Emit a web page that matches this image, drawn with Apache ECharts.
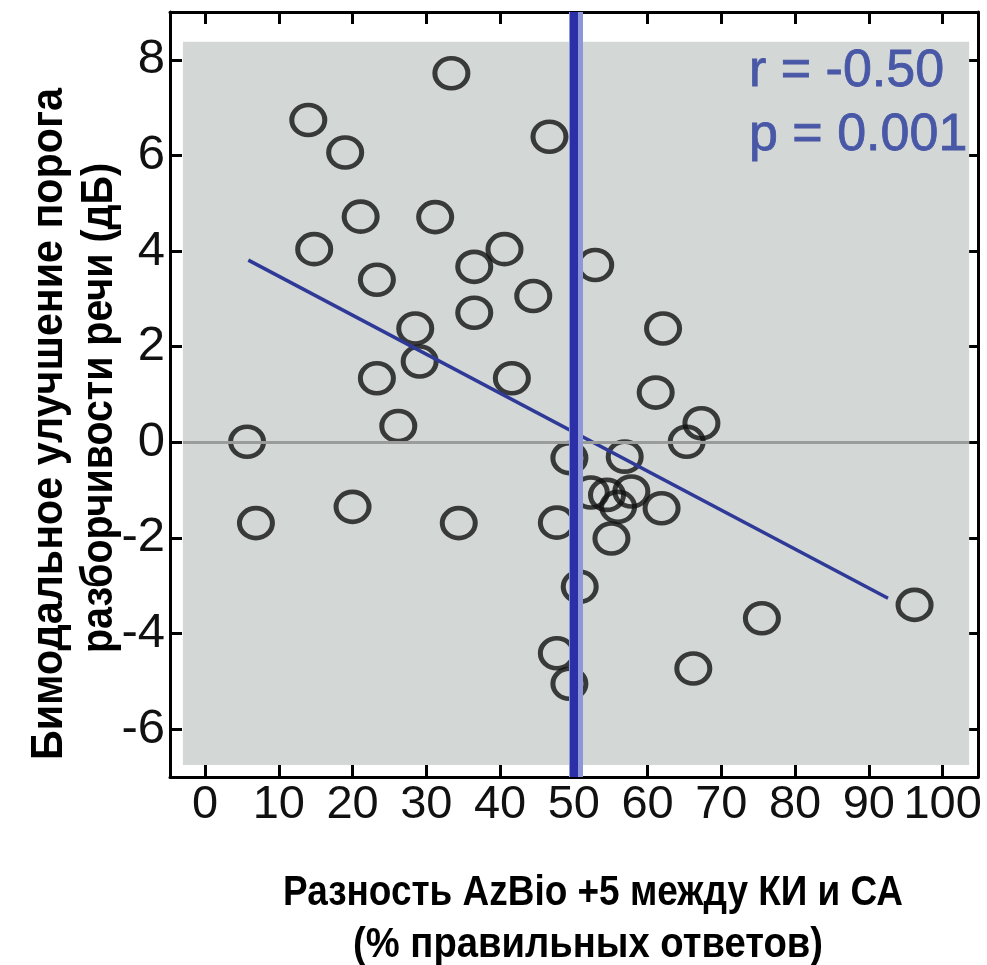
<!DOCTYPE html>
<html>
<head>
<meta charset="utf-8">
<script src="https://cdn.jsdelivr.net/npm/echarts@6/dist/echarts.min.js"></script>
<style>html,body{margin:0;padding:0;background:#fff}#c{width:987px;height:965px}</style>
</head>
<body>
<div id="c"></div>
<script>
// ---- data ----
const xVals = [33.4, 14.0, 19.0, 46.7, 21.1, 31.2, 14.8, 40.6, 36.5, 23.3, 52.9, 44.5, 36.5, 28.5, 62.1, 29.1, 23.3, 41.6, 61.1, 26.2, 67.3, 65.3, 5.7, 49.4, 56.9, 52.3, 54.5, 57.8, 56.0, 61.9, 6.9, 20.0, 34.4, 47.7, 55.1, 50.8, 96.2, 75.5, 47.7, 66.2, 49.4];
const yVals = [7.72, 6.74, 6.06, 6.39, 4.72, 4.71, 4.04, 4.04, 3.67, 3.40, 3.71, 3.06, 2.71, 2.38, 2.38, 1.69, 1.34, 1.34, 1.04, 0.34, 0.40, 0.01, 0.01, -0.33, -0.30, -1.05, -1.10, -1.03, -1.35, -1.38, -1.69, -1.35, -1.69, -1.68, -2.01, -3.02, -3.40, -3.68, -4.41, -4.73, -5.05];
const fitX = [5.87, 92.6];
const fitY = [3.81, -3.26];
const xTicks = [0, 10, 20, 30, 40, 50, 60, 70, 80, 90, 100];
const yTicks = [-6, -4, -2, 0, 2, 4, 6, 8];
const cutoffX = 50;
const statsText = ['r = -0.50', 'p = 0.001'];
const xTitle = ['Разность AzBio +5 между КИ и СА', '(% правильных ответов)'];
const yTitle = ['Бимодальное улучшение порога', 'разборчивости речи (дБ)'];
// ----------------

const points = xVals.map((x, i) => [x, yVals[i]]);
const fitLine = fitX.map((x, i) => [x, fitY[i]]);

const mctx = document.createElement('canvas').getContext('2d');
function fitText(text, font, target) {
  mctx.font = font;
  const w = mctx.measureText(text).width;
  return w > 0 ? target / w : 1;
}
const yFont = 'bold 44px "Liberation Sans", Arial, sans-serif';
const xFont = 'bold 43px "Liberation Sans", Arial, sans-serif';

const chart = echarts.init(document.getElementById('c'), null, {renderer: 'canvas'});
const axisLine = {show: true, onZero: false, lineStyle: {color: '#000', width: 3}};
const tick = (vals) => ({show: true, inside: true, length: 12, lineStyle: {color: '#000', width: 3}, customValues: vals});

chart.setOption({
  backgroundColor: '#fff',
  animation: false,
  grid: {left: 170, top: 12, width: 808, height: 765, containLabel: false},
  xAxis: [
    {type: 'value', position: 'bottom', min: -4.75, max: 104.8,
     axisLine, axisTick: tick(xTicks), splitLine: {show: false},
     axisLabel: {customValues: xTicks, fontSize: 47, fontFamily: '"Liberation Sans", Arial, sans-serif', color: '#111', margin: 5}},
    {type: 'value', position: 'top', min: -4.75, max: 104.8,
     axisLine, axisTick: tick(xTicks), splitLine: {show: false}, axisLabel: {show: false}}
  ],
  yAxis: [
    {type: 'value', position: 'left', min: -7, max: 9,
     axisLine, axisTick: tick(yTicks), splitLine: {show: false},
     axisLabel: {customValues: yTicks, fontSize: 49, fontFamily: '"Liberation Sans", Arial, sans-serif', color: '#111', margin: 5}},
    {type: 'value', position: 'right', min: -7, max: 9,
     axisLine, axisTick: tick(yTicks), splitLine: {show: false}, axisLabel: {show: false}}
  ],
  title: {
    text: statsText.join('\n'), left: 744, top: 35,
    textStyle: {fontSize: 52, fontWeight: 'normal', color: '#4857a6', lineHeight: 64, fontFamily: '"Liberation Sans", Arial, sans-serif',
      textBorderColor: '#4857a6', textBorderWidth: 0.8}
  },
  graphic: [
    {type: 'text', x: 50, y: 424, rotation: Math.PI / 2, scaleX: fitText(yTitle[0], yFont, 672),
     style: {text: yTitle[0], fill: '#000', font: yFont, align: 'center', verticalAlign: 'middle'}},
    {type: 'text', x: 100, y: 408, rotation: Math.PI / 2, scaleX: fitText(yTitle[1], yFont, 490),
     style: {text: yTitle[1], fill: '#000', font: yFont, align: 'center', verticalAlign: 'middle'}},
    {type: 'text', x: 593, y: 893, scaleX: fitText(xTitle[0], xFont, 620),
     style: {text: xTitle[0], fill: '#000', font: xFont, align: 'center', verticalAlign: 'middle'}},
    {type: 'text', x: 588, y: 945, scaleX: fitText(xTitle[1], xFont, 470),
     style: {text: xTitle[1], fill: '#000', font: xFont, align: 'center', verticalAlign: 'middle'}}
  ],
  series: [
    {type: 'line', data: [], z: 0, silent: true,
     markArea: {silent: true, itemStyle: {color: '#d3d7d5'}, data: [[{coord: [-3, -6.75]}, {coord: [103.6, 8.38]}]]},
     markLine: {silent: true, symbol: 'none', label: {show: false}, lineStyle: {color: '#9a9c9b', width: 3, type: 'solid'},
       data: [[{coord: [-3, 0]}, {coord: [103.6, 0]}]]}},
    {type: 'scatter', data: points, z: 3, symbol: 'circle', symbolSize: [33, 30],
     itemStyle: {color: 'rgba(0,0,0,0)', borderColor: '#111', borderWidth: 4.8}},
    {type: 'line', data: fitLine, z: 4, symbol: 'none', lineStyle: {color: '#2f3a98', width: 3.5}},
    {type: 'line', data: [], z: 5, silent: true,
     markLine: {silent: true, symbol: 'none', label: {show: false},
       data: [
         {xAxis: cutoffX + 0.25, lineStyle: {color: '#8d97d8', width: 14, type: 'solid'}},
         {xAxis: cutoffX, lineStyle: {color: '#2b2fa8', width: 8, type: 'solid'}}
       ]}}
  ]
});
</script>
</body>
</html>
